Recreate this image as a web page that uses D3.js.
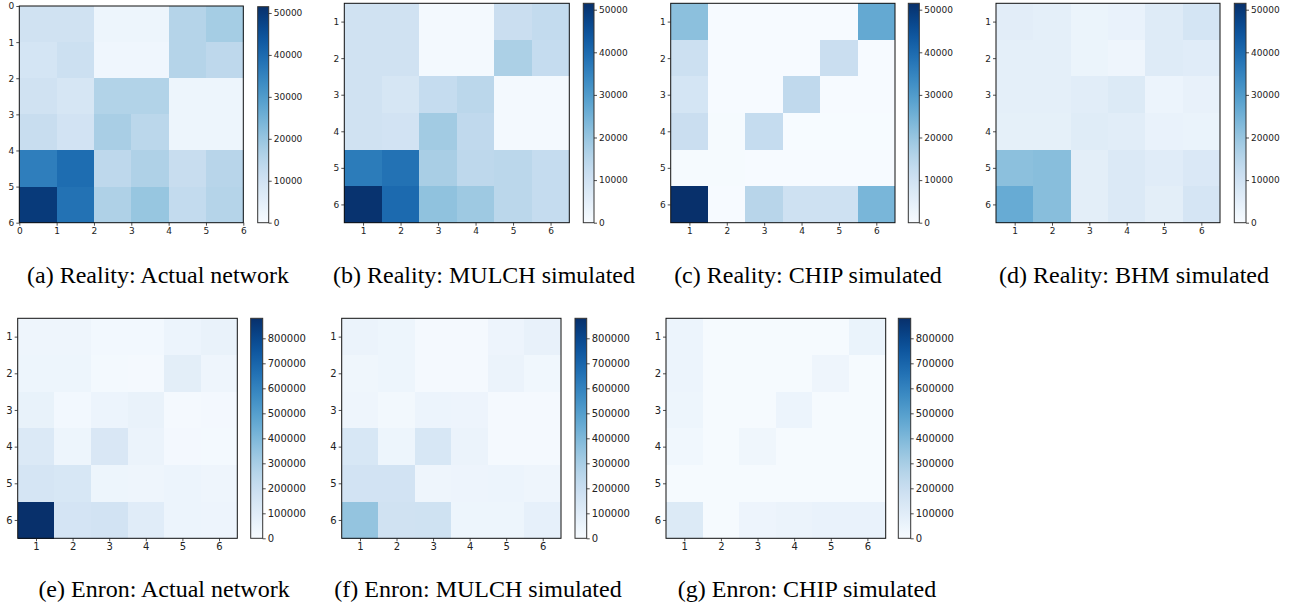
<!DOCTYPE html>
<html>
<head>
<meta charset="utf-8">
<script src="https://cdn.jsdelivr.net/npm/d3@7"></script>
<style>
  html, body { margin: 0; padding: 0; background: #fff; }
  svg { display: block; }
</style>
</head>
<body>
<svg id="fig" width="1290" height="607"></svg>
<script>
// Block-pair interaction counts (6 x 6 blocks), row = sender block, column = receiver block
const realityActual = [
  [10000, 10000,  2500,  2500, 15500, 18000],
  [ 9000, 11000,  2000,  2000, 15500, 14000],
  [10000,  8500, 16000, 16000,  2500,  2500],
  [12000,  9500, 17500, 14500,  2500,  2500],
  [36000, 39500, 14000, 16500, 12000, 15000],
  [49500, 38500, 16500, 20000, 13000, 15500]
];
const realityMulch = [
  [10000, 10000,  1000,  1000, 11500, 13000],
  [10000, 10000,  1000,  1000, 17000, 12500],
  [10000,  8500, 12500, 14500,  1000,  1000],
  [10000,  9500, 18500, 13500,  1000,  1000],
  [36500, 38500, 17500, 14000, 14500, 12500],
  [51000, 40000, 21000, 19000, 14500, 12500]
];
const realityChip = [
  [21500,   300,   300,   300,   300, 27000],
  [11000,   300,   300,   300, 11500,   300],
  [ 9000,   300,   300, 13500,   300,   300],
  [11500,   500, 12500,   200,   200,   200],
  [  500,   500,   300,   300,   300,   300],
  [51500,   300, 15000, 10500, 10500, 24000]
];
const realityBhm = [
  [ 5500,  5000,  3000,  3500,  6500,  9000],
  [ 4800,  4800,  3000,  2400,  6500,  6000],
  [ 4800,  4800,  5800,  7000,  2800,  4000],
  [ 4600,  4600,  6200,  5800,  3600,  3300],
  [21500, 22000,  5300,  7300,  6000,  7500],
  [26500, 22000,  5300,  7200,  5300,  8700]
];
const enronActual = [
  [ 40000,  40000,  20000,  20000,  48000,  62000],
  [ 42000,  42000,  17000,  12000,  90000,  40000],
  [ 65000,  20000,  48000,  62000,  12000,  18000],
  [125000,  42000, 135000,  55000,  18000,  16000],
  [150000, 140000,  42000,  40000,  48000,  40000],
  [880000, 155000, 165000, 100000,  48000,  45000]
];
const enronMulch = [
  [ 55000,  42000,  12000,  12000,  45000,  68000],
  [ 35000,  42000,  12000,  12000,  55000,  30000],
  [ 38000,  22000,  48000,  45000,  12000,  12000],
  [140000,  42000, 140000,  55000,  12000,  12000],
  [165000, 165000,  38000,  45000,  48000,  38000],
  [350000, 170000, 175000,  42000,  42000,  75000]
];
const enronChip = [
  [ 48000,  10000,  10000,  10000,  10000,  58000],
  [ 48000,  10000,  10000,  10000,  38000,  10000],
  [ 42000,  10000,  10000,  48000,  10000,  10000],
  [ 30000,   8000,  35000,   8000,   8000,   8000],
  [ 10000,   8000,   8000,   8000,   8000,   8000],
  [120000,   8000,  45000,  52000,  60000,  60000]
];

// Axis and colorbar tick labels
const blockTicks = [1, 2, 3, 4, 5, 6];
const edgeTicks = [0, 1, 2, 3, 4, 5, 6];
const realityBarTicks = [0, 10000, 20000, 30000, 40000, 50000];
const enronBarTicks = [0, 100000, 200000, 300000, 400000, 500000, 600000, 700000, 800000];

const captions = [
  "(a) Reality: Actual network",
  "(b) Reality: MULCH simulated",
  "(c) Reality: CHIP simulated",
  "(d) Reality: BHM simulated",
  "(e) Enron: Actual network",
  "(f) Enron: MULCH simulated",
  "(g) Enron: CHIP simulated"
];

// Shared colour range per dataset
const realityMax = d3.max([realityActual, realityMulch, realityChip, realityBhm].flat(2));
const enronMax = d3.max([enronActual, enronMulch, enronChip].flat(2));

// Panel layout: heatmap box, colorbar box, caption position, tick font size
const panels = [
  { data: realityActual, vmax: realityMax, barTicks: realityBarTicks, edges: true,
    box: [19.3, 6, 243.3, 222.7], bar: [257.7, 6.7, 268.7, 222.7], cap: [158, 283], fs: 9 },
  { data: realityMulch, vmax: realityMax, barTicks: realityBarTicks, edges: false,
    box: [344.3, 3.3, 569.3, 222.7], bar: [583.3, 3.3, 594, 222.7], cap: [484, 283], fs: 9 },
  { data: realityChip, vmax: realityMax, barTicks: realityBarTicks, edges: false,
    box: [670.7, 3.3, 895, 222.7], bar: [908.3, 3.3, 919.3, 222.7], cap: [808, 283], fs: 9 },
  { data: realityBhm, vmax: realityMax, barTicks: realityBarTicks, edges: false,
    box: [996, 3.3, 1220, 222.7], bar: [1234.3, 3.3, 1246, 222.7], cap: [1134, 283], fs: 9 },
  { data: enronActual, vmax: enronMax, barTicks: enronBarTicks, edges: false,
    box: [17.7, 318.3, 237.3, 538.3], bar: [250.7, 318.3, 262.7, 538.3], cap: [164, 597], fs: 10 },
  { data: enronMulch, vmax: enronMax, barTicks: enronBarTicks, edges: false,
    box: [341.7, 318.3, 561, 538.3], bar: [575, 318.3, 586.7, 538.3], cap: [478, 597], fs: 10 },
  { data: enronChip, vmax: enronMax, barTicks: enronBarTicks, edges: false,
    box: [666, 318.3, 885.7, 538.3], bar: [898.3, 318.3, 910.7, 538.3], cap: [807, 597], fs: 10 }
];

const svg = d3.select("#fig");
const defs = svg.append("defs");

// Vertical gradient for the Blues colorbar
const grad = defs.append("linearGradient")
  .attr("id", "bluesBar").attr("x1", 0).attr("y1", 1).attr("x2", 0).attr("y2", 0);
d3.range(0, 1.0001, 0.05).forEach(t => {
  grad.append("stop").attr("offset", t).attr("stop-color", d3.interpolateBlues(t));
});

function styleAxis(g, fs) {
  g.selectAll("path.domain").remove();
  g.selectAll(".tick line").attr("stroke", "#222").attr("stroke-width", 0.8);
  g.selectAll(".tick text")
    .attr("fill", "#222")
    .style("font-family", "'DejaVu Sans', sans-serif")
    .style("font-size", fs + "px");
}

panels.forEach((p, k) => {
  const [x0, y0, x1, y1] = p.box;
  const start = p.edges ? 0 : 0.5;
  const x = d3.scaleLinear().domain([start, start + 6]).range([x0, x1]);
  const y = d3.scaleLinear().domain([start, start + 6]).range([y0, y1]);
  const color = d3.scaleSequential(d3.interpolateBlues).domain([0, p.vmax]);

  const g = svg.append("g");

  // Cells
  const cells = p.data.flatMap((row, i) => row.map((v, j) => ({ i, j, v })));
  g.selectAll("rect.cell").data(cells).join("rect")
    .attr("class", "cell")
    .attr("x", d => x(start + d.j))
    .attr("y", d => y(start + d.i))
    .attr("width", d => x(start + d.j + 1) - x(start + d.j) + 0.3)
    .attr("height", d => y(start + d.i + 1) - y(start + d.i) + 0.3)
    .attr("fill", d => color(d.v))
    .attr("shape-rendering", "crispEdges");

  // Frame
  g.append("rect")
    .attr("x", x0).attr("y", y0).attr("width", x1 - x0).attr("height", y1 - y0)
    .attr("fill", "none").attr("stroke", "#111").attr("stroke-width", 1);

  // Axes
  const tickVals = p.edges ? edgeTicks : blockTicks;
  const xAxis = d3.axisBottom(x).tickValues(tickVals).tickFormat(d3.format("d")).tickSize(3).tickPadding(2);
  const yAxis = d3.axisLeft(y).tickValues(tickVals).tickFormat(d3.format("d")).tickSize(3).tickPadding(2);
  g.append("g").attr("transform", `translate(0,${y1})`).call(xAxis).call(a => styleAxis(a, p.fs));
  g.append("g").attr("transform", `translate(${x0},0)`).call(yAxis).call(a => styleAxis(a, p.fs));

  // Colorbar
  const [bx0, by0, bx1, by1] = p.bar;
  g.append("rect")
    .attr("x", bx0).attr("y", by0).attr("width", bx1 - bx0).attr("height", by1 - by0)
    .attr("fill", "url(#bluesBar)")
    .attr("stroke", "#333").attr("stroke-width", 1);
  const cy = d3.scaleLinear().domain([0, p.vmax]).range([by1, by0]);
  const cAxis = d3.axisRight(cy).tickValues(p.barTicks).tickFormat(d3.format("d")).tickSize(3).tickPadding(2);
  g.append("g").attr("transform", `translate(${bx1},0)`).call(cAxis).call(a => styleAxis(a, p.fs));

  // Caption
  svg.append("text")
    .attr("x", p.cap[0]).attr("y", p.cap[1])
    .attr("text-anchor", "middle")
    .style("font-family", "'Liberation Serif', 'Times New Roman', serif")
    .style("font-size", "24px")
    .attr("fill", "#000")
    .text(captions[k]);
});
</script>
</body>
</html>
